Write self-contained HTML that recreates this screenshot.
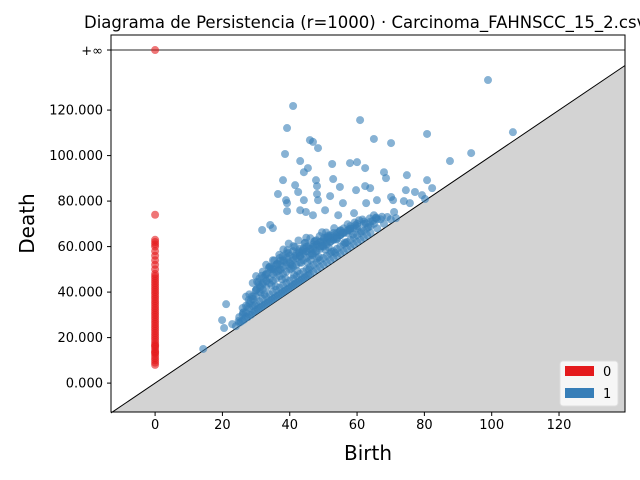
<!DOCTYPE html>
<html><head><meta charset="utf-8"><style>
html,body{margin:0;padding:0;background:#fff}
svg{display:block;font-family:"DejaVu Sans","Liberation Sans",sans-serif}
</style></head><body>
<svg id="chart" width="640" height="480" viewBox="0 0 640 480" xmlns="http://www.w3.org/2000/svg">
<text x="84" y="28" font-size="16.5" fill="#000">Diagrama de Persistencia (r=1000) · Carcinoma_FAHNSCC_15_2.csv</text>
<g id="plot"></g>
</svg>
<script>
const xTicks=[0,20,40,60,80,100,120];
const yTicks=[0,20,40,60,80,100,120];
const yTickLabels=["0.000","20.000","40.000","60.000","80.000","100.000","120.000"];
const infValue=146.4;
const h0Deaths=[8,9,10,11,12,13,13.5,14,15,16,16.5,17,18,19,20,21,22,23,24,25,26,27,28,29,30,31,32,33,34,35,36,37,38,39,40,41,42,43,44,45,46,47,48,50,52,54,56,58,60,61,62,63,74];
const h0Births=[0,0,0,0,0,0,0,0,0,0,0,0,0,0,0,0,0,0,0,0,0,0,0,0,0,0,0,0,0,0,0,0,0,0,0,0,0,0,0,0,0,0,0,0,0,0,0,0,0,0,0,0,0];
const h1Births=[98.9,41.0,60.9,39.2,65.0,46.0,46.9,70.1,48.4,106.3,80.8,38.6,43.1,87.6,93.9,52.6,57.9,60,62.4,45.4,44.2,38.0,41.6,47.8,48.1,52.9,68,68.6,74.8,80.8,82.3,62.4,63.9,54.9,59.7,42.5,36.5,48.1,70.1,70.7,74.5,77.2,79.3,80.2,38.9,39.2,44.2,48.4,52,55.8,62.7,65.9,73.9,75.7,43.1,44.8,39.2,46.9,50.5,54.4,34.2,35,31.8,71,71.6,65,65.6,59.1,60.6,19.9,20.5,21.1,22.9,14.3,
24,25,25.5,26,26.5,27,27.5,28,28.5,29,29.5,30,30.5,31,31.5,32,32.5,33,33.5,34,34.5,35,35.5,36,36.5,37,37.5,38,38.5,39,39.5,40,40.5,41,41.5,42,42.5,43,43.5,44,44.5,45,45.5,46,47,48,49,50,51,52,53,54,55,56,57,58,59,60,61,62,63,64,66,68,70,
25,26,27,28,29,30,31,32,33,34,35,36,37,38,39,40,41,42,43,44,45,46,47,48,49,50,51,52,53,54,55,56,57,58,59,60,61,62,63,64,65,67,69,
26,27,28,29,30,31,32,33,34,35,36,37,38,39,40,41,42,43,44,45,46,47,48,49,50,51,52,53,54,55,56,57,58,59,60,62,64,66,
27,28,30,31,32,33,34,35,36,37,38,39,40,41,42,43,44,45,46,47,48,49,50,51,52,53,54,55,56,58,60,62,
29,31,33,35,37,39,41,43,45,47,49,51,53,55,57,
30,32,34,36,38,40,42,44,46,48,50,52,54,56,58,60,
33,35,37,39,41,43,45,47,49,51,53,55,
26.3,27.8,29.2,30.7,31.4,32.2,33.8,34.6,35.3,36.2,37.7,38.3,39.6,40.4,41.7,42.3,43.8,44.6,45.2,46.5,47.3,48.7,49.4,50.2,51.6,52.8,53.5,54.1,55.7,56.3,57.4,58.8,59.5,61.2,62.6,63.3,64.7,
28.4,29.6,30.2,31.7,32.5,33.1,34.4,35.8,36.6,37.2,38.7,39.1,40.8,41.3,42.9,43.4,44.1,45.7,46.8,47.5,48.2,49.8,50.6,51.3,52.4,53.9,54.7,56.6,57.9,
31.2,32.8,34.1,35.4,36.9,37.3,38.1,39.7,40.2,41.5,42.6,43.1,44.9,45.6,46.2,47.7,48.9,50.8,52.2,
24.8,26.1,27.4,28.8,29.9,30.3,31.9,33.3,34.8,36.4,37.9,39.3,41.1,42.7,44.4,46.1,47.9,49.6,51.4,53.2,55.1,57.2,59.3,61.6,63.8,65.7,67.4];
const h1Deaths=[133.2,121.8,115.6,112.1,107.3,106.8,106,105.5,103.3,110.3,109.5,100.7,97.6,97.6,101.1,96.3,96.7,97.1,94.5,94.5,92.7,89.2,87,89.2,86.6,89.7,92.7,90.1,91.4,89.2,85.7,86.6,85.7,86.2,84.8,84,83.1,83.1,81.8,80.4,84.8,84,82.6,80.9,80.4,79.1,80.4,80.4,82.2,79.1,79.1,80.4,80,79.1,76,75.2,75.6,73.8,76,73.8,69.5,68.1,67.3,75.2,72.5,73.8,72.5,74.7,71.6,27.7,24.2,34.7,25.9,15,
25,26.5,27,27.5,28,29,29,30,30,31,31.5,32,32.5,33,33.5,34,34.5,35,35.5,36,36.5,37,37.5,38,38.5,39,39.5,40,40.5,41,41.5,42,42.5,43,43.5,44,44.5,45,45.5,46,46.5,47,47.5,48,49,50,51,52,53,54,55,56,57,58,59,60,61,62,63,64,65,66,68,70,72,
29,30,31,33,34,35,36,37,38,39,40,41,42,43,44,45,46,47,48,49,50,51,52,53,54,55,56,57,58,59,60,61,62,63,64,65,66,67,68,69,70,72,73,
33,34,35,37,38,40,41,42,44,45,46,47,48,49,50,51,52,53,54,55,56,57,58,59,60,61,62,63,64,65,66,67,68,68,69,70,71,72,
38,39,41,43,44,45,46,48,49,50,51,52,53,54,55,56,57,58,59,60,61,62,63,64,65,66,66,67,68,69,70,71,
44,46,48,50,52,53,55,56,58,59,60,62,63,65,66,
47,49,51,52,54,56,57,58,59,61,62,64,65,66,67,68,
52,54,55,57,58,59,60,61,62,63,64,65,
31.2,36.5,38.1,44.2,39.8,46.3,50.7,43.1,48.9,52.4,45.6,53.8,57.2,50.3,55.9,49.2,58.4,61.7,53.1,56.8,62.3,55.4,60.1,63.9,59.6,64.8,57.3,63.4,66.1,61.8,67.2,65.3,69.4,66.7,70.2,68.5,71.3,
36.1,34.2,41.3,47.2,38.9,44.8,50.1,42.6,49.3,53.7,46.1,55.2,51.8,47.6,57.3,52.9,59.1,49.9,56.2,62.4,54.8,60.3,58.6,64.2,57.7,63.1,66.4,61.5,67.8,
42.3,47.6,51.2,53.9,56.4,49.8,58.7,61.3,52.4,59.8,62.7,55.6,63.9,60.4,54.1,57.8,64.6,66.2,62.3,
27.3,30.8,33.4,38.2,40.7,44.5,43.2,47.8,50.6,52.3,55.7,58.4,60.2,57.9,61.5,63.7,62.8,66.3,64.9,68.1,67.2,69.8,70.6,71.9,72.4,72.8,73.1];

const NS='http://www.w3.org/2000/svg';
const L=111,R=625,T=35,B=412;
const xMin=-13.1,xMax=139.6,yMin=-12.7,yMax=153;
const sx=v=>L+(v-xMin)/(xMax-xMin)*(R-L);
const sy=v=>B-(v-yMin)/(yMax-yMin)*(B-T);
const g=document.getElementById('plot');
function mk(tag,attrs){const e=document.createElementNS(NS,tag);for(const k in attrs)e.setAttribute(k,attrs[k]);g.appendChild(e);return e;}

const shade=mk('polygon',{points:`${sx(xMin)},${sy(xMin)} ${sx(xMax)},${sy(xMax)} ${R},${B} ${L},${B}`,fill:'#d3d3d3'});


const diag=mk('line',{x1:sx(xMin),y1:sy(xMin),x2:sx(xMax),y2:sy(xMax),stroke:'#000','stroke-width':1});


const infl=mk('line',{x1:L,y1:sy(infValue),x2:R,y2:sy(infValue),stroke:'#555','stroke-width':1.2});



const n1=Math.min(h1Births.length,h1Deaths.length);
for(let i=0;i<n1;i++){
  const c=mk('circle',{cx:sx(h1Births[i]),cy:sy(h1Deaths[i]),r:4,fill:'#377eb8','fill-opacity':0.6});
  
  
}
for(let i=0;i<h0Deaths.length;i++){
  const c=mk('circle',{cx:sx(h0Births[i]),cy:sy(h0Deaths[i]),r:4,fill:'#e41a1c','fill-opacity':0.6});
  
  
}
const ci=mk('circle',{cx:sx(0),cy:sy(infValue),r:4,fill:'#e41a1c','fill-opacity':0.6});



const frame=mk('rect',{x:L,y:T,width:R-L,height:B-T,fill:'none',stroke:'#000','stroke-width':1});



xTicks.forEach(v=>{
  const t=mk('line',{x1:sx(v),y1:B,x2:sx(v),y2:B+4,stroke:'#000'});
  
  
  const tx=mk('text',{x:sx(v),y:B+17,'font-size':13,'text-anchor':'middle',fill:'#000'});
  tx.textContent=v;
  
  
});
yTicks.forEach((v,i)=>{
  const t=mk('line',{x1:L-4,y1:sy(v),x2:L,y2:sy(v),stroke:'#000'});
  
  
  const tx=mk('text',{x:L-8,y:sy(v)+4.5,'font-size':13,'text-anchor':'end',fill:'#000'});
  tx.textContent=yTickLabels[i];
  
  
});
const it=mk('line',{x1:L-4,y1:sy(infValue),x2:L,y2:sy(infValue),stroke:'#000'});


const itx=mk('text',{x:L-8,y:sy(infValue)+5,'font-size':13,'text-anchor':'end',fill:'#000'});
itx.textContent='+∞';



const xl=mk('text',{x:(L+R)/2,y:460,'font-size':20,'text-anchor':'middle',fill:'#000'});
xl.textContent='Birth';


const yl=mk('text',{x:34,y:(T+B)/2,'font-size':20,'text-anchor':'middle',fill:'#000',transform:`rotate(-90 34 ${(T+B)/2})`});
yl.textContent='Death';



const lg=mk('rect',{x:560,y:361,width:58,height:45,rx:3,fill:'#fff','fill-opacity':0.8,stroke:'#ddd'});


[['0','#e41a1c',366],['1','#377eb8',388]].forEach(([lab,col,y])=>{
  const p=mk('rect',{x:565,y:y,width:29,height:10,fill:col});
  
  
  const t=mk('text',{x:603,y:y+10,'font-size':13,fill:'#000'});
  t.textContent=lab;
  
  
});
</script>
</body></html>
